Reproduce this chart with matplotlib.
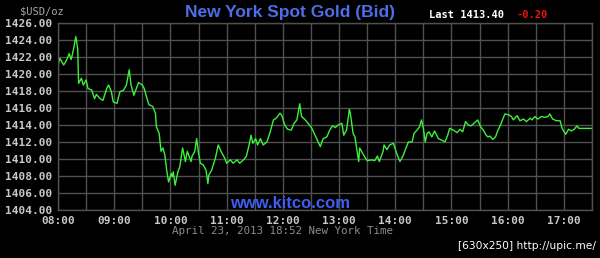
import matplotlib
matplotlib.use('Agg')
import matplotlib.pyplot as plt

# Minutes after 08:00 and bid price (USD/oz)
minutes = [0, 2, 6, 9, 12, 14, 16, 19, 21, 22, 25, 27, 30, 32, 36, 39, 41, 45, 48, 52,
           54, 57, 59, 63, 66, 70, 73, 76, 78, 81, 86, 90, 92, 95, 97, 101, 104, 105, 108, 110,
           112, 114, 116, 118, 121, 122, 123, 125, 128, 130, 133, 136, 138, 142, 143, 146, 148, 150, 152, 155,
           158, 160, 161, 164, 168, 171, 174, 178, 180, 184, 187, 191, 194, 198, 201, 204, 206, 208, 211, 213,
           216, 219, 223, 226, 230, 233, 237, 239, 242, 245, 249, 252, 255, 258, 260, 263, 267, 271, 276, 280,
           283, 287, 290, 293, 296, 299, 303, 305, 308, 311, 312, 315, 317, 319, 321, 322, 326, 330, 335, 338,
           341, 343, 347, 348, 351, 354, 358, 362, 365, 368, 372, 374, 378, 380, 384, 386, 388, 390, 392, 394,
           396, 399, 402, 406, 410, 413, 416, 418, 422, 426, 429, 432, 435, 438, 441, 444, 448, 451, 454, 457,
           459, 461, 464, 467, 469, 473, 477, 481, 484, 486, 490, 493, 497, 500, 504, 506, 509, 512, 516, 520,
           523, 525, 528, 532, 536, 538, 542, 545, 548, 551, 554, 556, 561, 570]
prices = [1421.06, 1421.85, 1421.06, 1421.6, 1422.4, 1421.7, 1422.6, 1424.4, 1423.0, 1418.9,
          1419.5, 1418.7, 1419.3, 1418.3, 1418.1, 1417.1, 1417.6, 1417.1, 1416.9, 1418.3,
          1418.7, 1417.9, 1416.7, 1416.55, 1417.9, 1418.1, 1418.7, 1420.5, 1418.7, 1417.5,
          1419.0, 1418.7, 1418.3, 1417.1, 1416.4, 1416.2, 1415.4, 1413.8, 1413.0, 1410.9,
          1411.3, 1410.5, 1408.7, 1407.3, 1408.3, 1407.9, 1408.5, 1406.9, 1408.5, 1409.1,
          1411.3, 1409.7, 1410.9, 1409.7, 1410.3, 1410.9, 1412.4, 1410.7, 1409.5, 1409.3,
          1408.7, 1407.1, 1408.1, 1408.7, 1410.1, 1411.65, 1410.9, 1410.1, 1409.5, 1409.9,
          1409.5, 1409.9, 1409.5, 1409.9, 1410.3, 1411.65, 1412.8, 1411.85, 1412.4, 1411.65,
          1412.4, 1411.65, 1412.0, 1413.0, 1414.6, 1414.8, 1415.4, 1415.1, 1414.0, 1413.5,
          1413.4, 1414.2, 1414.6, 1416.5, 1415.0, 1414.7, 1414.2, 1413.6, 1412.4, 1411.45,
          1412.4, 1412.6, 1413.4, 1413.9, 1413.7, 1414.0, 1414.2, 1412.8, 1413.4, 1415.85,
          1415.4, 1413.0, 1412.6, 1411.1, 1409.7, 1411.3, 1410.5, 1409.8, 1409.9, 1409.8,
          1410.35, 1409.7, 1410.9, 1411.65, 1411.1, 1411.65, 1411.85, 1410.5, 1409.7, 1410.3,
          1411.45, 1412.0, 1412.0, 1413.0, 1413.5, 1413.8, 1414.6, 1413.6, 1412.0, 1413.0,
          1413.2, 1412.6, 1413.3, 1412.4, 1412.2, 1412.0, 1412.8, 1413.6, 1413.4, 1413.1,
          1413.5, 1413.2, 1414.4, 1414.0, 1413.9, 1414.2, 1414.6, 1413.8, 1413.4, 1412.8,
          1412.6, 1412.7, 1412.3, 1412.6, 1413.2, 1414.2, 1415.3, 1415.2, 1415.0, 1414.6,
          1415.1, 1414.5, 1414.7, 1414.4, 1414.8, 1414.6, 1415.0, 1414.7, 1415.0, 1414.9,
          1415.0, 1415.3, 1414.7, 1414.5, 1414.5, 1413.6, 1412.9, 1413.5, 1413.3, 1413.5,
          1413.9, 1413.6, 1413.6, 1413.6]

hour_labels = ['08:00', '09:00', '10:00', '11:00', '12:00',
               '13:00', '14:00', '15:00', '16:00', '17:00']
y_ticks = [1404, 1406, 1408, 1410, 1412, 1414, 1416, 1418, 1420, 1422, 1424, 1426]

last_price = '1413.40'
change = '-0.20'

mono = 'DejaVu Sans Mono'
grid_col = '#505050'

fig = plt.figure(figsize=(6, 2.58), dpi=100, facecolor='black')
ax = fig.add_axes([58 / 600, 1 - 210 / 258, 534 / 600, 187 / 258])
ax.set_facecolor('black')

ax.plot(minutes, prices, color='#3cf03c', linewidth=1.0)

# x grid every half hour, labels only on the hour
x_ticks = list(range(0, 571, 30))
x_labels = [hour_labels[i // 2] if i % 2 == 0 and i // 2 < len(hour_labels) else '' for i in range(len(x_ticks))]
ax.set_xticks(x_ticks)
ax.set_xticklabels(x_labels)
ax.set_yticks(y_ticks)
ax.set_yticklabels(['%.2f' % v for v in y_ticks])
ax.set_xlim(0, 570)
ax.set_ylim(1404, 1426)

ax.grid(True, color=grid_col, linewidth=1.0)
ax.set_axisbelow(True)
for s in ax.spines.values():
    s.set_color(grid_col)
    s.set_linewidth(1.0)
ax.tick_params(length=0, colors='#c8c8c8', labelsize=8, pad=4)
for lbl in ax.get_xticklabels() + ax.get_yticklabels():
    lbl.set_family(mono)
    lbl.set_fontweight('bold')

# header texts
fig.text(20 / 600, 1 - 11 / 258, '$USD/oz', color='#a8a8a8', family=mono,
         fontsize=7.5, va='center', ha='left')
fig.text(290 / 600, 1 - 12 / 258, 'New York Spot Gold (Bid)', color='#4d6ee6',
         family='Liberation Sans', fontweight='bold', fontsize=12.5, va='center', ha='center')
fig.text(429 / 600, 1 - 15 / 258, 'Last ' + last_price, color='white', family=mono,
         fontweight='bold', fontsize=7.5, va='center', ha='left')
fig.text(517 / 600, 1 - 15 / 258, change, color='#ee1111', family=mono,
         fontweight='bold', fontsize=7.5, va='center', ha='left')

# footer texts
fig.text(290 / 600, 1 - 203 / 258, 'www.kitco.com', color='#3d5ff0',
         family='Liberation Sans', fontweight='bold', fontsize=12, va='center', ha='center')
fig.text(282 / 600, 1 - 231 / 258, 'April 23, 2013 18:52 New York Time', color='#8c8c8c',
         family=mono, fontsize=7.8, va='center', ha='center')
fig.text(596 / 600, 1 - 246 / 258, '[630x250] http://upic.me/', color='white',
         family='DejaVu Sans', fontsize=7.7, va='center', ha='right')

fig.savefig('out.png', dpi=100, facecolor='black')
